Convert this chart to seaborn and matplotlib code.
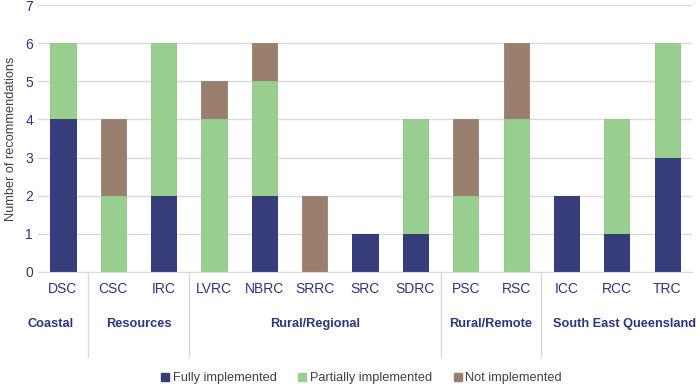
import matplotlib
matplotlib.use("Agg")
import matplotlib.pyplot as plt
from matplotlib.lines import Line2D
import seaborn as sns
import pandas as pd

councils = ['DSC', 'CSC', 'IRC', 'LVRC', 'NBRC', 'SRRC', 'SRC', 'SDRC',
            'PSC', 'RSC', 'ICC', 'RCC', 'TRC']
fully = [4, 0, 2, 0, 2, 0, 1, 1, 0, 0, 2, 1, 3]
partially = [2, 2, 4, 4, 3, 0, 0, 3, 2, 4, 0, 3, 3]
not_impl = [0, 2, 0, 1, 1, 2, 0, 0, 2, 2, 0, 0, 0]

groups = ['Coastal', 'Resources', 'Rural/Regional', 'Rural/Remote', 'South East Queensland']
group_sizes = [1, 2, 5, 2, 3]

navy = '#363D7A'
green = '#98CF8F'
brown = '#9A7E6E'
text_col = '#2B3580'

df = pd.DataFrame({'council': councils, 'fully': fully,
                   'partially': partially, 'not': not_impl})
df['fp'] = df['fully'] + df['partially']
df['total'] = df['fp'] + df['not']

sns.set_style('white')
plt.rcParams['font.family'] = ['Liberation Sans', 'DejaVu Sans']

fig = plt.figure(figsize=(7, 3.89), dpi=100)
ax = fig.add_axes([0.054, 0.301, 0.935, 0.686])

# stacked bars: draw cumulative totals from tallest to shortest
sns.barplot(data=df, x='council', y='total', color=brown, width=0.5,
            saturation=1, ax=ax, edgecolor=brown, linewidth=0.6)
sns.barplot(data=df, x='council', y='fp', color=green, width=0.5,
            saturation=1, ax=ax, edgecolor=green, linewidth=0.6)
sns.barplot(data=df, x='council', y='fully', color=navy, width=0.5,
            saturation=1, ax=ax, edgecolor='#2A3170', linewidth=0.6)

ax.set_ylim(0, 7)
ax.set_xlim(-0.5, len(councils) - 0.5)
ax.set_yticks(range(0, 8))
ax.yaxis.grid(True, color='#D9D9D9', linewidth=1)
ax.set_axisbelow(True)
for s in ['top', 'right', 'left']:
    ax.spines[s].set_visible(False)
ax.spines['bottom'].set_color('#D9D9D9')
ax.tick_params(axis='both', length=0, labelsize=10, labelcolor=text_col)
ax.tick_params(axis='x', pad=7)
ax.set_xlabel('')
ax.set_ylabel('Number of recommendations', fontsize=9.2, color='#404040', labelpad=6)

# group labels and separators
trans = ax.get_xaxis_transform()
start = 0
for i, (g, n) in enumerate(zip(groups, group_sizes)):
    mid = start + (n - 1) / 2
    if i == 0:
        mid -= 0.25
    elif i == len(groups) - 1:
        mid += 0.15
    ax.text(mid, -0.195, g, transform=trans, ha='center', va='center',
            fontsize=9.2, fontweight='bold', color=text_col)
    end = start + n
    if i < len(groups) - 1:
        ax.add_line(Line2D([end - 0.5, end - 0.5], [0, -0.32], transform=trans,
                           color='#D9D9D9', linewidth=1, clip_on=False))
    start = end

handles = [Line2D([], [], marker='s', linestyle='', color=c, markersize=5.5)
           for c in [navy, green, brown]]
fig.legend(handles, ['Fully implemented', 'Partially implemented', 'Not implemented'],
           loc='center', bbox_to_anchor=(0.516, 0.028), ncol=3, frameon=False,
           fontsize=9.2, handlelength=0.8, handletextpad=0.2, columnspacing=1.6,
           labelcolor='#404040')

fig.savefig('out.png', dpi=100)
